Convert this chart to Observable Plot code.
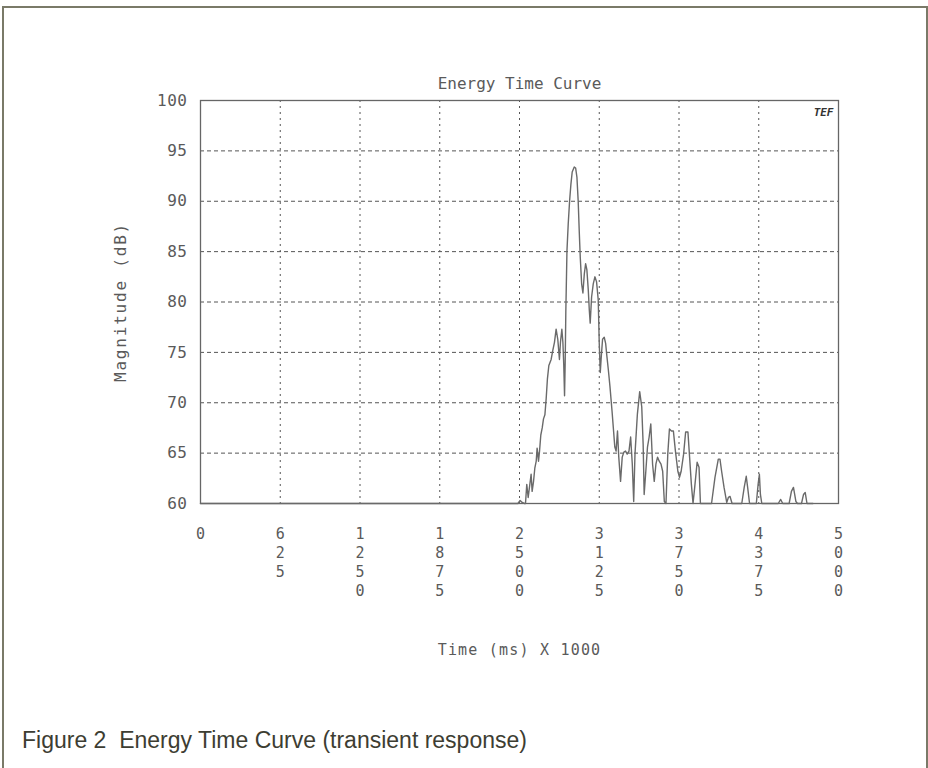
<!DOCTYPE html>
<html>
<head>
<meta charset="utf-8">
<script src="https://cdn.jsdelivr.net/npm/d3@7"></script>
<script src="https://cdn.jsdelivr.net/npm/@observablehq/plot@0.6"></script>
<style>
  body { margin: 0; background: #fff; }
  #frame { position: absolute; left: 2px; top: 6px; width: 922px; height: 800px; border: 2px solid #7a7a68; border-bottom: none; }
  #chart { position: absolute; left: 0; top: 0; }
  #caption { position: absolute; left: 22px; top: 729px; font-family: "Liberation Sans", Arial, sans-serif; font-size: 23px; line-height: 23px; color: #3d3d32; white-space: pre; }
  g[aria-label="title"] text { letter-spacing: 1.8px; }
  g[aria-label="y-axis label"] text { letter-spacing: 1.8px; }
  g[aria-label="x-axis label"] text { letter-spacing: 1.2px; }
  g[aria-label="y-axis tick label"] text { letter-spacing: 0.5px; }
</style>
</head>
<body>
<div id="frame"></div>
<div id="chart"></div>
<div id="caption">Figure 2  Energy Time Curve (transient response)</div>
<script>
const chartTitle = "Energy Time Curve";
const xLabel = "Time (ms) X 1000";
const yLabel = "Magnitude (dB)";
const captionText = "Figure 2  Energy Time Curve (transient response)";
const xTicks = [0, 625, 1250, 1875, 2500, 3125, 3750, 4375, 5000];
const yTicks = [60, 65, 70, 75, 80, 85, 90, 95, 100];

const times = [
  0, 2487, 2505, 2521, 2539, 2547, 2557, 2568, 2578, 2591,
  2599, 2610, 2620, 2631, 2638, 2649, 2657, 2667, 2678, 2688,
  2699, 2709, 2719, 2730, 2748, 2761, 2774, 2787, 2800, 2813,
  2821, 2832, 2840, 2847, 2853, 2858, 2863, 2872, 2882, 2893,
  2903, 2913, 2929, 2940, 2950, 2960, 2968, 2976, 2987, 2997,
  3008, 3018, 3028, 3039, 3047, 3054, 3065, 3078, 3091, 3104,
  3117, 3125, 3133, 3141, 3151, 3164, 3175, 3185, 3196, 3209,
  3225, 3247, 3257, 3268, 3278, 3292, 3305, 3318, 3331, 3344,
  3358, 3371, 3384, 3395, 3405, 3424, 3442, 3458, 3469, 3477,
  3490, 3503, 3516, 3529, 3543, 3556, 3569, 3582, 3595, 3609,
  3622, 3635, 3648, 3662, 3675, 3691, 3706, 3722, 3741, 3754,
  3767, 3786, 3802, 3820, 3833, 3847, 3860, 3873, 3892, 3907,
  3918, 4005, 4032, 4058, 4071, 4084, 4103, 4124, 4137, 4150,
  4166, 4242, 4261, 4277, 4288, 4303, 4356, 4370, 4380, 4388,
  4399, 4528, 4547, 4563, 4613, 4631, 4647, 4666, 4679, 4710,
  4726, 4739, 4753, 4800
];
const magnitudes = [
  60, 60, 60.3, 60.1, 60, 60, 61.9, 60.6, 61.6, 62.9,
  61.2, 62.2, 63.5, 64.2, 65.5, 64.2, 65.2, 66.8, 67.5, 68.4,
  68.8, 70.4, 72.4, 73.7, 74.3, 75.2, 76, 77.3, 76.3, 74.3,
  76, 77.3, 76, 73.7, 70.7, 74, 79, 85.1, 87.8, 90.1,
  91.7, 92.9, 93.4, 93.3, 92.4, 90, 87.1, 84.5, 81.8, 80.9,
  82.8, 83.8, 83.2, 81.2, 79.2, 77.9, 80.5, 81.8, 82.5, 82,
  80.2, 75.9, 73, 74.6, 76.3, 76.5, 75.9, 74.6, 73.3, 71.6,
  69.2, 65.6, 65.2, 67.2, 64.6, 62.2, 64.6, 65.1, 65.2, 64.9,
  65.2, 66.6, 63.9, 60.2, 64.9, 68.9, 71.1, 69.6, 65.9, 60.9,
  63.2, 65.6, 66.6, 67.9, 63.9, 62.2, 63.9, 64.6, 64.2, 63.9,
  63.2, 60.2, 60, 64.9, 67.4, 67.2, 67.2, 65.2, 63.2, 62.6,
  63.2, 64.9, 67.1, 67.1, 64.6, 61.9, 60, 61.6, 64.1, 63.6,
  60, 60, 62.6, 64.4, 64.4, 63.2, 61.6, 60.1, 60.6, 60.7,
  60, 60, 61.6, 62.7, 61.6, 60, 60, 61.9, 62.9, 60.9,
  60, 60, 60.4, 60, 60, 61.2, 61.6, 60.2, 60, 60,
  60.9, 61.1, 60, 60
];

const data = times.map((t, i) => ({t, v: magnitudes[i]}));

const chart = Plot.plot({
  width: 928,
  height: 700,
  marginLeft: 200,
  marginRight: 90,
  marginTop: 100,
  marginBottom: 197,
  x: {domain: [0, 5000]},
  y: {domain: [60, 100]},
  style: {fontFamily: "'DejaVu Sans Mono', monospace", color: "#5a5a5a", background: "transparent"},
  marks: [
    Plot.gridX(xTicks, {stroke: "#555", strokeOpacity: 1, strokeDasharray: "2,4"}),
    Plot.gridY(yTicks, {stroke: "#555", strokeOpacity: 1, strokeDasharray: "4,3"}),
    Plot.frame({stroke: "#666", strokeWidth: 1.3}),
    Plot.axisY(yTicks, {
      tickSize: 0, tickPadding: 13, fontSize: 16,
      label: yLabel, labelAnchor: "center", labelArrow: "none", labelOffset: 86
    }),
    Plot.axisX(xTicks, {
      tickSize: 0, tickPadding: 22, fontSize: 15, lineHeight: 1.27,
      tickFormat: d => String(d).split("").join("\n"),
      label: xLabel, labelAnchor: "center", labelArrow: "none", labelOffset: 151
    }),
    Plot.line(data, {x: "t", y: "v", stroke: "#6a6a6a", strokeWidth: 1.4}),
    Plot.text([chartTitle], {frameAnchor: "top", dy: -23, fontSize: 16, ariaLabel: "title"}),
    Plot.text(["TEF"], {frameAnchor: "top-right", dx: -5, dy: 8, fontSize: 11, fontWeight: "bold", fontStyle: "italic", fill: "#333", textAnchor: "end"})
  ]
});
document.getElementById("chart").appendChild(chart);
document.getElementById("caption").textContent = captionText;
</script>
</body>
</html>
